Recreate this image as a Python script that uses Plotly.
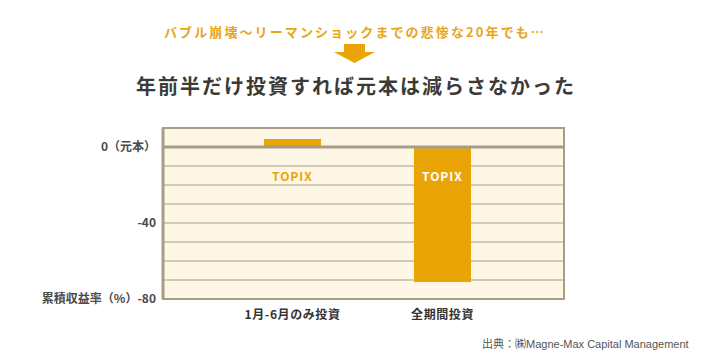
import plotly.graph_objects as go

categories = ["1月-6月のみ投資", "全期間投資"]
values = [4.2, -71.0]
series_label = "TOPIX"
tick_vals = [0, -40, -80]
tick_text = ["0（元本）", "-40", "累積収益率（%）-80"]
grid_vals = [-10, -20, -30, -40, -50, -60, -70]

title = "年前半だけ投資すれば元本は減らさなかった"
subtitle = "バブル崩壊～リーマンショックまでの悲惨な20年でも…"
source = "出典：㈱Magne-Max Capital Management"

ORANGE = "#eba406"
GRID = "#a59d86"
BG = "#fff7e6"
FONT = "Noto Sans CJK JP"

# page has an 8px body margin; work in page pixels and convert
OFF = 8
W, H = 710 - OFF, 360 - OFF
L, T = 163 - OFF, 128 - OFF
PW, PH = 401, 171
R = W - L - PW
B = H - T - PH

def px_x(x):
    return (x - OFF - L) / PW

def px_y(y):
    return (T + PH - (y - OFF)) / PH

fig = go.Figure()
fig.add_trace(go.Bar(
    x=[0, 1], y=values, width=0.38,
    marker=dict(color=ORANGE, line=dict(width=0)),
    hoverinfo="skip", showlegend=False,
))

label_colors = [ORANGE, "#ffffff"]
for i, c in enumerate(label_colors):
    fig.add_annotation(x=i, y=-15, xref="x", yref="y",
                       text='<span style="letter-spacing:1px"><b>' + series_label + "</b></span>",
                       showarrow=False, xanchor="center", yanchor="middle",
                       font=dict(family=FONT, size=12, color=c))

for g in grid_vals:
    fig.add_shape(type="line", xref="paper", yref="y", x0=0, x1=1, y0=g, y1=g,
                  line=dict(color=GRID, width=1), layer="below")

fig.add_shape(type="line", xref="paper", yref="y", x0=0, x1=1, y0=0, y1=0,
              line=dict(color=GRID, width=3), layer="above")

fig.add_annotation(x=px_x(355), y=px_y(31), xref="paper", yref="paper",
                   xanchor="center", yanchor="middle",
                   text='<span style="letter-spacing:2.1px"><b>' + subtitle + "</b></span>",
                   showarrow=False, font=dict(family=FONT, size=13, color="#e8a616"))
fig.add_annotation(x=px_x(356), y=px_y(86), xref="paper", yref="paper",
                   xanchor="center", yanchor="middle",
                   text='<span style="letter-spacing:2px"><b>' + title + "</b></span>",
                   showarrow=False, font=dict(family=FONT, size=20, color="#3c3a37"))
fig.add_annotation(x=px_x(691), y=px_y(343), xref="paper", yref="paper",
                   xanchor="right", yanchor="middle",
                   text=source, showarrow=False,
                   font=dict(family="Liberation Sans, Noto Sans CJK JP", size=11, color="#555555"))

# arrow
fig.add_shape(type="rect", xref="paper", yref="paper",
              x0=px_x(344), x1=px_x(365), y0=px_y(52.5), y1=px_y(44),
              fillcolor=ORANGE, line=dict(width=0))
fig.add_shape(type="path", xref="paper", yref="paper",
              path=f"M {px_x(334)} {px_y(52)} L {px_x(375)} {px_y(52)} L {px_x(354.5)} {px_y(63)} Z",
              fillcolor=ORANGE, line=dict(width=0))

# border
fig.add_shape(type="rect", xref="paper", yref="paper", x0=0, x1=1, y0=0, y1=1,
              line=dict(color=GRID, width=2), layer="above")
fig.add_shape(type="line", xref="paper", yref="paper", x0=0, x1=0, y0=0, y1=1,
              line=dict(color=GRID, width=3), layer="above")

fig.update_layout(
    width=W, height=H,
    margin=dict(l=L, r=R, t=T, b=B),
    paper_bgcolor="#ffffff", plot_bgcolor=BG,
    font=dict(family=FONT, color="#555555"),
    bargap=0,
)
fig.update_xaxes(range=[-0.864, 1.81], tickvals=[0, 1],
                 ticktext=['<span style="letter-spacing:0.6px"><b>' + c + "</b></span>" for c in categories],
                 tickfont=dict(family=FONT, size=12, color="#333333"),
                 showgrid=False, zeroline=False, ticks="", ticklabelstandoff=7,
                 fixedrange=True)
fig.update_yaxes(range=[-80, 10], tickvals=tick_vals,
                 ticktext=["<b>" + t + "</b>" for t in tick_text],
                 tickfont=dict(family=FONT, size=12, color="#4a4a4a"),
                 showgrid=False, zeroline=False, ticks="", ticklabelstandoff=6,
                 fixedrange=True)

fig.write_html("out.html")
